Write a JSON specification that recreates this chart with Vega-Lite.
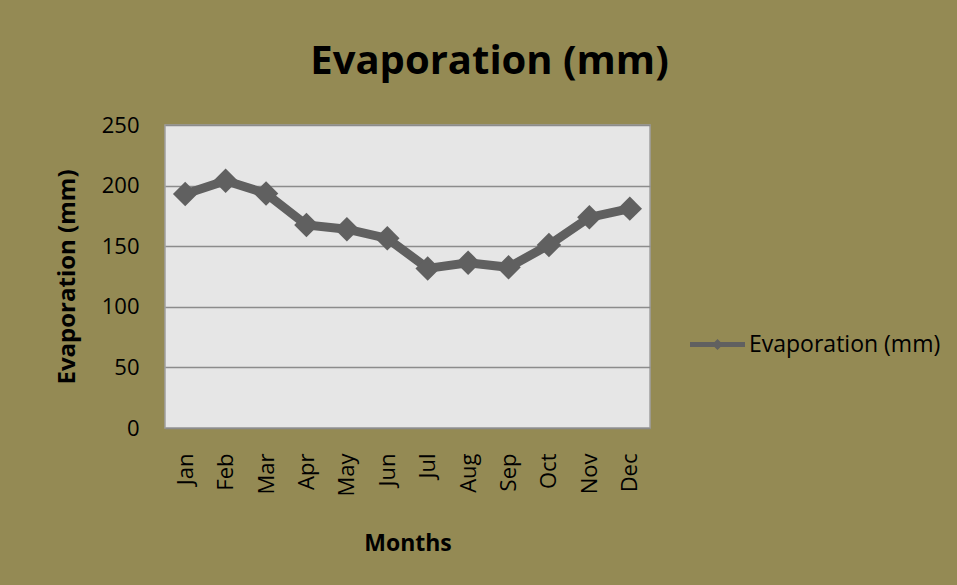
{
  "$schema": "https://vega.github.io/schema/vega-lite/v6.json",
  "width": 485,
  "height": 303,
  "autosize": {"type": "none"},
  "padding": {"left": 165, "top": 125, "right": 307, "bottom": 157},
  "background": "#948A54",
  "config": {
    "font": "Open Sans",
    "view": {"fill": "#E6E6E6", "stroke": "#A0A0A0", "strokeWidth": 1.5}
  },
  "title": {
    "text": "Evaporation (mm)",
    "fontSize": 40,
    "fontWeight": "bold",
    "font": "Open Sans",
    "color": "#000000",
    "anchor": "middle",
    "frame": "group",
    "dx": 82,
    "offset": 32
  },
  "data": {
    "values": [
      {"month": "Jan", "evap": 193},
      {"month": "Feb", "evap": 204},
      {"month": "Mar", "evap": 193.5},
      {"month": "Apr", "evap": 167.5},
      {"month": "May", "evap": 164},
      {"month": "Jun", "evap": 156.5},
      {"month": "Jul", "evap": 131.7},
      {"month": "Aug", "evap": 136.4},
      {"month": "Sep", "evap": 132.6},
      {"month": "Oct", "evap": 151},
      {"month": "Nov", "evap": 173.8},
      {"month": "Dec", "evap": 181}
    ]
  },
  "encoding": {
    "x": {
      "field": "month",
      "type": "ordinal",
      "sort": null,
      "scale": {"type": "point", "padding": 0.5},
      "axis": {
        "title": "Months",
        "titleFontSize": 23,
        "titleFontWeight": "bold",
        "titleColor": "#000000",
        "titlePadding": 36,
        "labelAngle": -90,
        "labelFontSize": 22,
        "labelColor": "#000000",
        "labelPadding": 25,
        "ticks": false,
        "domain": false,
        "grid": false
      }
    },
    "y": {
      "field": "evap",
      "type": "quantitative",
      "scale": {"domain": [0, 250]},
      "axis": {
        "title": "Evaporation (mm)",
        "titleFontSize": 24,
        "titleFontWeight": "bold",
        "titleColor": "#000000",
        "titlePadding": 22,
        "values": [0, 50, 100, 150, 200, 250],
        "labelFontSize": 22,
        "labelColor": "#000000",
        "labelPadding": 26,
        "ticks": false,
        "domain": false,
        "gridColor": "#8C8C8C",
        "gridWidth": 1.5
      }
    },
    "color": {
      "datum": "Evaporation (mm)",
      "type": "nominal",
      "scale": {"range": ["#606060"]},
      "legend": {
        "title": null,
        "orient": "none",
        "legendX": 525,
        "legendY": 192,
        "labelFontSize": 23,
        "labelLimit": 0,
        "labelColor": "#000000",
        "symbolType": "M-1,-0.09H1V0.09H-1Z M0,-0.2L0.2,0L0,0.2L-0.2,0Z",
        "symbolSize": 3025,
        "symbolStrokeWidth": 0,
        "symbolFillColor": "#626270",
        "labelOffset": 4
      }
    }
  },
  "layer": [
    {
      "mark": {"type": "line", "strokeWidth": 9, "color": "#606060"}
    },
    {
      "mark": {"type": "point", "shape": "diamond", "size": 600, "filled": true, "opacity": 1, "color": "#606060"}
    }
  ]
}
